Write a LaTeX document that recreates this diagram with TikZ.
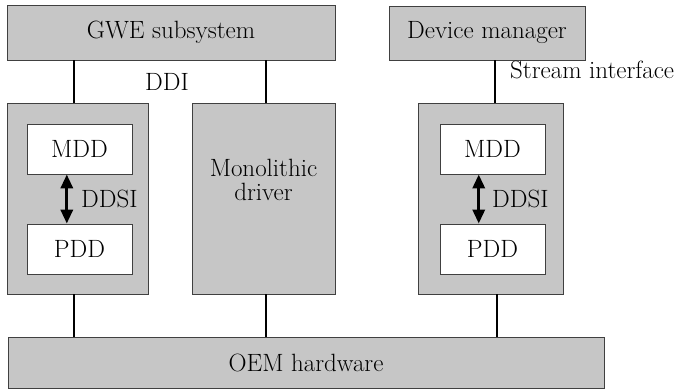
\documentclass[tikz,border=0pt]{standalone}
\usetikzlibrary{arrows.meta,calc}
\begin{document}
\begin{tikzpicture}[x=1pt, y=-1pt,
    boxstyle/.style={draw=black!75, fill=gray!45, line width=0.8pt, inner sep=0pt, font=\fontsize{25}{24}\selectfont},
    innerstyle/.style={draw=black!75, fill=white, line width=0.8pt, minimum width=105pt, minimum height=50pt, inner sep=0pt, font=\fontsize{25}{24}\selectfont},
    linkstyle/.style={line width=1.8pt},
    arrowstyle/.style={{Triangle[length=14pt,width=12pt]}-{Triangle[length=14pt,width=12pt]}, line width=3.2pt},
    labelstyle/.style={font=\fontsize{25}{24}\selectfont, inner sep=0pt, anchor=base west}
]
    \useasboundingbox (0,0) rectangle (683,389);
    % Top layer
    \node[boxstyle, minimum width=328pt, minimum height=55pt] (gwe) at (171,32.5) {GWE subsystem};
    \node[boxstyle, minimum width=196pt, minimum height=54pt] (devmgr) at (487,33) {Device manager};
    % Driver layer
    \node[boxstyle, minimum width=141pt, minimum height=191pt] (lgroup) at (77.5,198.5) {};
    \node[boxstyle, minimum width=143pt, minimum height=191pt] (mono) at (263.5,198.5) {};
    \node[boxstyle, minimum width=145pt, minimum height=191pt] (rgroup) at (490.5,198.5) {};
    \node[labelstyle, anchor=center, align=center] (monotext) at (263.5,180) {Monolithic\\driver};
    \node[innerstyle] (lmdd) at (79.5,149) {MDD};
    \node[innerstyle] (lpdd) at (79.5,249) {PDD};
    \node[innerstyle] (rmdd) at (492.5,149) {MDD};
    \node[innerstyle] (rpdd) at (492.5,249) {PDD};
    \draw[arrowstyle] ($(lmdd.south west)!0.38!(lmdd.south east)$) -- ($(lpdd.north west)!0.38!(lpdd.north east)$);
    \draw[arrowstyle] ($(rmdd.south west)!0.37!(rmdd.south east)$) -- ($(rpdd.north west)!0.37!(rpdd.north east)$);
    \node[labelstyle] (lddsi) at (81,207) {DDSI};
    \node[labelstyle] (rddsi) at (492,207) {DDSI};
    % Hardware layer
    \node[boxstyle, minimum width=596pt, minimum height=51pt] (oem) at (306,362.5) {OEM hardware};
    % Interfaces
    \draw[linkstyle] ($(lgroup.north)+(-3.5,0)$) coordinate (l1) -- (l1 |- gwe.south);
    \draw[linkstyle] ($(mono.north)+(2.5,0)$) coordinate (m1) -- (m1 |- gwe.south);
    \draw[linkstyle] ($(rgroup.north)+(4.5,0)$) coordinate (r1) -- (r1 |- devmgr.south);
    \draw[linkstyle] ($(lgroup.south)+(-3.5,0)$) coordinate (l2) -- (l2 |- oem.north);
    \draw[linkstyle] ($(mono.south)+(2.5,0)$) coordinate (m2) -- (m2 |- oem.north);
    \draw[linkstyle] ($(rgroup.south)+(6.5,0)$) coordinate (r2) -- (r2 |- oem.north);
    \node[labelstyle] (ddi) at (145,90) {DDI};
    \node[labelstyle] (stream) at (510,78) {Stream interface};
\end{tikzpicture}
\end{document}
